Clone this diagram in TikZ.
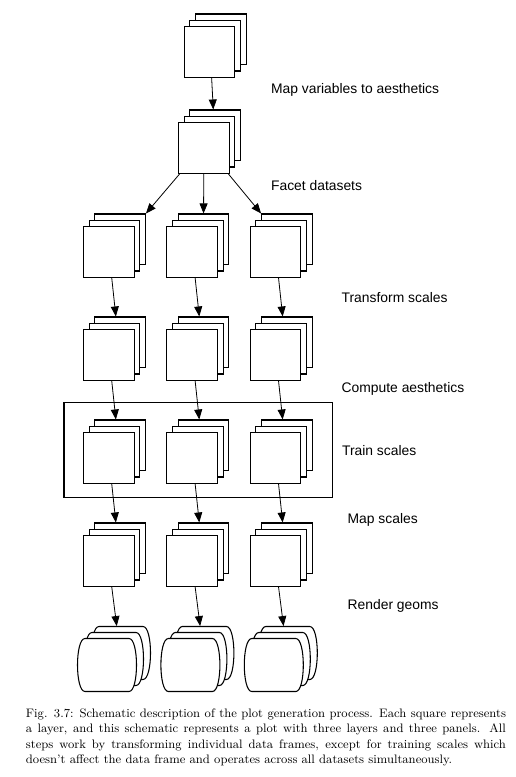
\documentclass[tikz,border=0pt]{standalone}
\usepackage{fontspec}
\newfontfamily\stepfont{Liberation Sans}
\usetikzlibrary{calc,shadows,arrows.meta}

\tikzset{
  layers/.style={draw, fill=white, line width=0.8pt, inner sep=0pt, minimum size=38pt,
    general shadow={shadow xshift=8.5pt, shadow yshift=9.5pt, draw, fill=white, line width=0.8pt},
    general shadow={shadow xshift=4.25pt, shadow yshift=4.75pt, draw, fill=white, line width=0.8pt}},
  back/.style={xshift=8.5pt, yshift=9.5pt},
  geombox/.style={inner sep=0pt, minimum width=44pt, minimum height=40pt},
  geomline/.style={draw, fill=white, line width=0.8pt},
  flow/.style={line width=0.6pt, -{Triangle[length=7.5pt,width=6pt]}},
  steplabel/.style={anchor=base west, inner sep=0pt, font=\stepfont\fontsize{10.4}{12}\selectfont}
}

% three bulging layers behind and at a front centre
\newcommand\geomstack[1]{%
  \foreach \d in {2,1,0}
    \draw[geomline, shift={($(#1)+(7*\d,-6*\d)$)}] (-22,-26.5) -- (22,-26.5)
      .. controls (32,-26.5) and (32,26.5) .. (22,26.5) -- (-22,26.5)
      .. controls (-32,26.5) and (-32,-26.5) .. cycle;
}

\begin{document}
\begin{tikzpicture}[x=0.75pt, y=-0.75pt]
		%%%%% START %%%%%
		\useasboundingbox (0,0) rectangle (515,777);
		
		\node[layers] (data) at (209.5,52) {};
		\node[layers] (aes) at (203.8,148) {};
		
		\foreach \x [count=\i] in {108.8,192.2,275.6} {
			\node[layers] (facet\i) at (\x,252) {};
			\node[layers] (trans\i) at (\x,355) {};
			\node[layers] (comp\i) at (\x,458) {};
			\node[layers] (scaled\i) at (\x,561) {};
			\node[geombox] (geom\i) at (\x-1.8,665) {};
			\geomstack{geom\i}
		}
		
		% training works across all panels
		\draw[line width=0.8pt] (64,402.7) rectangle (332.7,497.3);
		
		\draw[flow] ([xshift=1.6pt]data.south) -- ([back,xshift=-1.4pt]aes.north);
		\draw[flow] ([xshift=1.3pt]aes.south west) -- ([back]facet1.north east);
		\draw[flow] (aes.south) -- ([back]facet2.north);
		\draw[flow] ([xshift=-1pt]aes.south east) -- ([back]facet3.north west);
		
		\foreach \i in {1,2,3} {
			\draw[flow] ([xshift=2.2pt]facet\i.south) -- ([back,xshift=-3.2pt]trans\i.north);
			\draw[flow] ([xshift=2.2pt]trans\i.south) -- ([back,xshift=-3.2pt]comp\i.north);
			\draw[flow] ([xshift=2.2pt]comp\i.south) -- ([back,xshift=-3.2pt]scaled\i.north);
			\draw[flow] ([xshift=2.2pt]scaled\i.south) -- ([xshift=7.3pt,yshift=9pt]geom\i.north);
		}
		
		\node[steplabel] (mapvar) at (270.8,94) {Map variables to aesthetics};
		\node[steplabel] (facet) at (270.8,190.7) {Facet datasets};
		\node[steplabel] (trans) at (341.4,302) {Transform scales};
		\node[steplabel] (comp) at (341.4,392.7) {Compute aesthetics};
		\node[steplabel] (train) at (341.8,455.7) {Train scales};
		\node[steplabel] (mapsc) at (347.4,523.3) {Map scales};
		\node[steplabel] (render) at (347.4,609) {Render geoms};
		
		\node[anchor=north west, inner sep=0pt, text width=360pt, align=justify,
			font=\fontsize{9.2}{11.6}\selectfont] (caption) at (25.7,708.2)
			{Fig. 3.7: Schematic description of the plot generation process. Each square represents\linebreak
			a layer, and this schematic represents a plot with three layers and three panels. All\linebreak
			steps work by transforming individual data frames, except for training scales which\linebreak
			doesn't affect the data frame and operates across all datasets simultaneously.};
		
		%%%%% END %%%%%
\end{tikzpicture}
\end{document}
